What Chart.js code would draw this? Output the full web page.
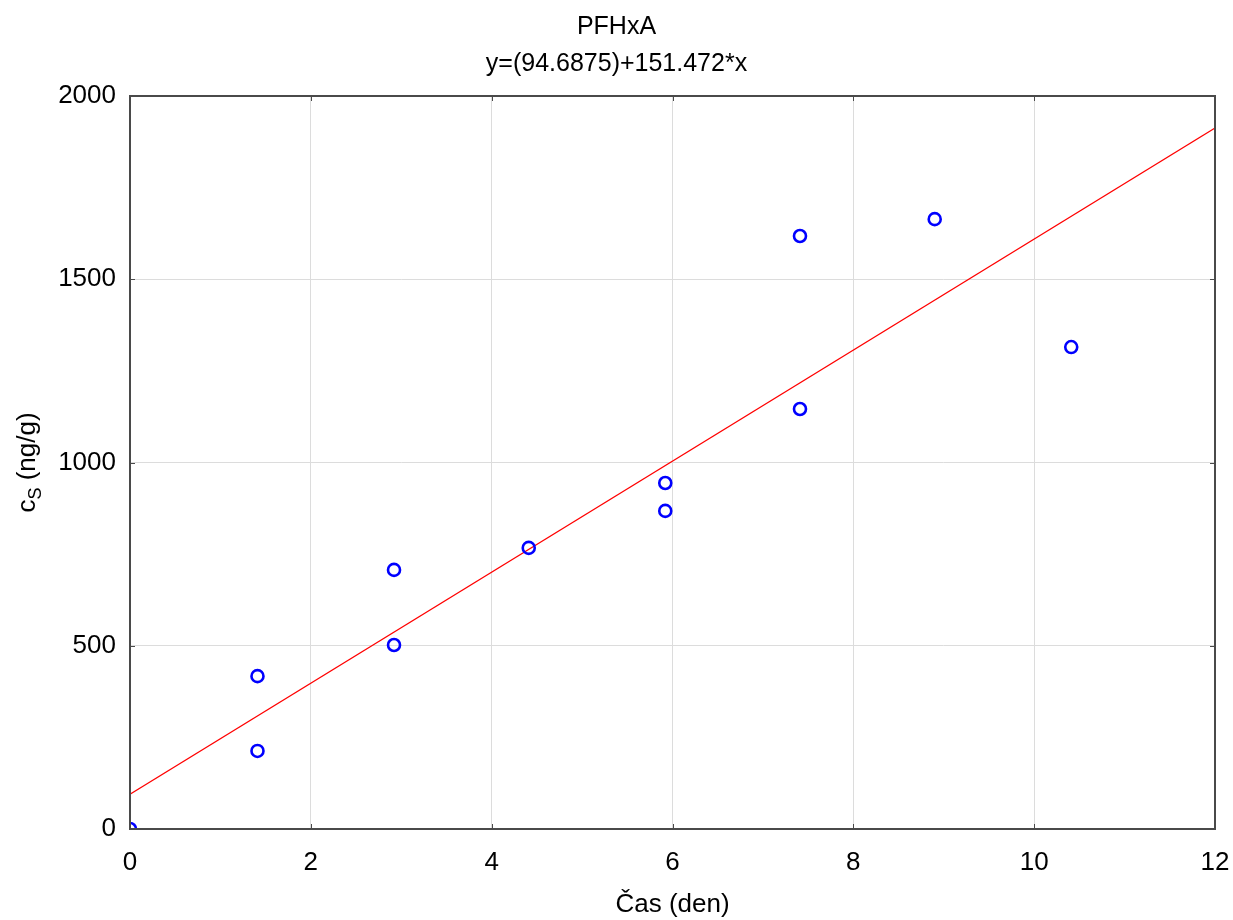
<!DOCTYPE html>
<html>
<head>
<meta charset="utf-8">
<title>PFHxA</title>
<script src="https://cdn.jsdelivr.net/npm/chart.js@4.4.0/dist/chart.umd.min.js"></script>
<style>
  html, body { margin:0; padding:0; background:#fff; }
  #wrap { width:1233px; height:920px; }
</style>
</head>
<body>
<div id="wrap"><canvas id="chart" width="1233" height="920"></canvas></div>
<script>
// measured samples: time in days vs concentration in ng/g
const days = [0, 1.41, 1.41, 2.92, 2.92, 4.41, 5.92, 5.92, 7.41, 7.41, 8.9, 10.41];
const conc = [0, 417, 213, 707, 502, 767, 944, 868, 1618, 1146, 1664, 1315];

// fitted line y = a + b*x
const intercept = 94.6875;
const slope = 151.472;
const fitRange = [0, 12];

const xTicks = [0, 2, 4, 6, 8, 10, 12];
const yTicks = [0, 500, 1000, 1500, 2000];

const FONT = '"Liberation Sans", Arial, sans-serif';
const AXIS = '#4a4a4a';

const points = days.map((d, i) => ({ x: d, y: conc[i] }));
const fitLine = fitRange.map(x => ({ x, y: intercept + slope * x }));

// frame round the plot area plus short inward tick marks
const framePlugin = {
  id: 'frame',
  afterLayout(chart) {
    // centre the title over the whole canvas rather than the padded box
    const t = chart.titleBlock;
    if (t) { t.left += 9; t.right += 9; }
  },
  afterDatasetsDraw(chart) {
    const { ctx, chartArea: a, scales: { x, y } } = chart;
    ctx.save();
    ctx.strokeStyle = AXIS;
    ctx.lineWidth = 1;
    xTicks.forEach(v => {
      const px = Math.round(x.getPixelForValue(v)) + 0.5;
      ctx.beginPath(); ctx.moveTo(px, a.bottom); ctx.lineTo(px, a.bottom - 5); ctx.stroke();
      ctx.beginPath(); ctx.moveTo(px, a.top); ctx.lineTo(px, a.top + 5); ctx.stroke();
    });
    yTicks.forEach(v => {
      const py = Math.round(y.getPixelForValue(v)) + 0.5;
      ctx.beginPath(); ctx.moveTo(a.left, py); ctx.lineTo(a.left + 5, py); ctx.stroke();
      ctx.beginPath(); ctx.moveTo(a.right, py); ctx.lineTo(a.right - 5, py); ctx.stroke();
    });
    ctx.lineWidth = 2;
    ctx.strokeRect(a.left, a.top, a.right - a.left, a.bottom - a.top);
    ctx.restore();
  }
};

// y axis title with a subscript, drawn rotated
const yTitlePlugin = {
  id: 'yTitle',
  afterDraw(chart) {
    const { ctx, chartArea: a } = chart;
    const cy = (a.top + a.bottom) / 2;
    ctx.save();
    ctx.translate(35, cy);
    ctx.rotate(-Math.PI / 2);
    ctx.fillStyle = '#000';
    ctx.textBaseline = 'alphabetic';
    const big = '26px ' + FONT, small = '18px ' + FONT;
    ctx.font = big;
    const w1 = ctx.measureText('c').width;
    const w3 = ctx.measureText(' (ng/g)').width;
    ctx.font = small;
    const w2 = ctx.measureText('S').width;
    let xx = -(w1 + w2 + w3) / 2;
    ctx.font = big; ctx.fillText('c', xx, 0); xx += w1;
    ctx.font = small; ctx.fillText('S', xx, 6); xx += w2;
    ctx.font = big; ctx.fillText(' (ng/g)', xx, 0);
    ctx.restore();
  }
};

new Chart(document.getElementById('chart'), {
  type: 'scatter',
  data: {
    datasets: [
      {
        type: 'line',
        data: fitLine,
        borderColor: '#ff0000',
        borderWidth: 1.2,
        pointRadius: 0,
        fill: false,
        clip: 0,
        order: 2
      },
      {
        data: points,
        borderColor: '#0000ff',
        backgroundColor: 'rgba(0,0,0,0)',
        borderWidth: 2.6,
        pointRadius: 6,
        clip: 0,
        order: 1
      }
    ]
  },
  options: {
    responsive: false,
    animation: false,
    layout: { autoPadding: false, padding: { left: 0, right: 18, top: 9, bottom: 0 } },
    plugins: {
      legend: { display: false },
      tooltip: { enabled: false },
      title: {
        display: true,
        text: ['PFHxA', 'y=(94.6875)+151.472*x'],
        color: '#000',
        font: { family: FONT, size: 25, weight: 'normal', lineHeight: 1.48 },
        padding: { top: 0, bottom: 13 }
      }
    },
    scales: {
      x: {
        type: 'linear',
        min: 0, max: 12,
        afterBuildTicks: s => { s.ticks = xTicks.map(v => ({ value: v })); },
        ticks: { color: '#000', font: { family: FONT, size: 26 }, padding: 18, callback: v => String(v) },
        grid: { color: '#dcdcdc', drawTicks: false },
        border: { display: false },
        title: { display: true, text: 'Čas (den)', color: '#000', font: { family: FONT, size: 26 }, padding: { top: 12, bottom: 0 } },
        afterFit: s => { s.height = 91; s.paddingLeft = 0; s.paddingRight = 0; }
      },
      y: {
        min: 0, max: 2000,
        afterBuildTicks: s => { s.ticks = yTicks.map(v => ({ value: v })); },
        ticks: { color: '#000', font: { family: FONT, size: 26 }, padding: 14, callback: v => String(v) },
        grid: { color: '#dcdcdc', drawTicks: false },
        border: { display: false },
        afterFit: s => { s.width = 130; s.paddingTop = 0; s.paddingBottom = 0; }
      }
    }
  },
  plugins: [framePlugin, yTitlePlugin]
});
</script>
</body>
</html>
